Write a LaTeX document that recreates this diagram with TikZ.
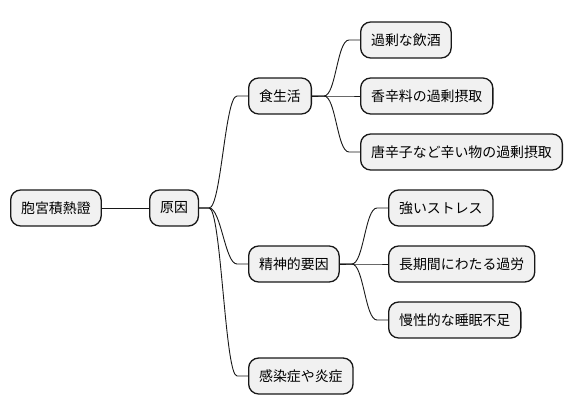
\documentclass[tikz,border=0pt]{standalone}
\usepackage{fontspec}
\setmainfont{Noto Sans CJK JP}
\definecolor{boxfill}{HTML}{F1F1F1}
\definecolor{ink}{HTML}{181818}
\tikzset{
  mm/.style={draw=ink, line width=1.3pt, fill=boxfill, rounded corners=10pt,
    minimum height=36pt, inner xsep=10.5pt, inner ysep=0pt, anchor=west,
    font=\fontsize{13.9}{16}\selectfont, text=black},
  link/.style={draw=ink, line width=0.9pt},
}
\newcommand{\branch}[3]{%
  \draw[link] (#1.east) -- ++(#3,0) coordinate (j)
    .. controls +(12,0) and +(-12,0) .. ($(#2.west)+(-11,0)$) -- (#2.west);}
\usetikzlibrary{calc}
\begin{document}
\begin{tikzpicture}[x=1pt,y=-1pt]
\useasboundingbox (0,0) rectangle (572,415);
\node[mm] (root) at (10,208) {胞宮積熱證};
\node[mm] (cause) at (149,208) {原因};
\node[mm] (food) at (248,96) {食生活};
\node[mm] (mind) at (248,264) {精神的要因};
\node[mm] (inf) at (248,376) {感染症や炎症};
\node[mm] (f1) at (360,40) {過剰な飲酒};
\node[mm] (f2) at (360,96) {香辛料の過剰摂取};
\node[mm] (f3) at (360,152) {唐辛子など辛い物の過剰摂取};
\node[mm] (m1) at (388,208) {強いストレス};
\node[mm] (m2) at (388,264) {長期間にわたる過労};
\node[mm] (m3) at (388,320) {慢性的な睡眠不足};
\draw[link] (root.east) -- (cause.west);
\branch{cause}{food}{10}
\branch{cause}{mind}{10}
\branch{cause}{inf}{10}
\branch{food}{f1}{12}
\branch{food}{f2}{12}
\branch{food}{f3}{12}
\branch{mind}{m1}{12}
\branch{mind}{m2}{12}
\branch{mind}{m3}{12}
\end{tikzpicture}
\end{document}
